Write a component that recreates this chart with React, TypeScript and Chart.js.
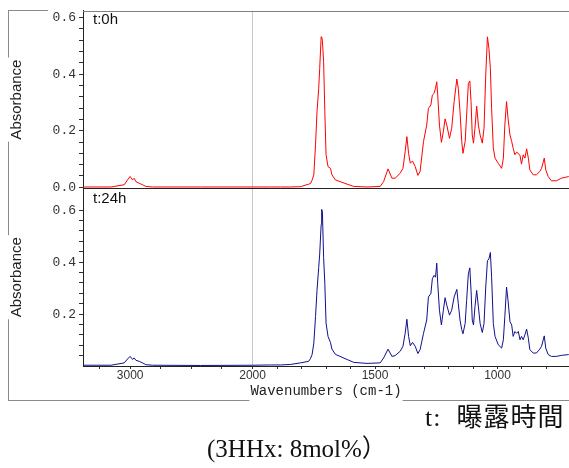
import React, { useEffect, useRef } from 'react';
import { Chart, registerables, LinearScale } from 'chart.js';

Chart.register(...registerables);

// ---- data (wavenumber in cm-1, absorbance) ----
const wavenumbers = [
  3385, 3157, 3048, 3021, 3000, 2980, 2967, 2953, 2926, 2899,
  2872, 2817, 2424, 2000, 1927, 1886, 1845, 1805, 1771, 1764,
  1757, 1750, 1743, 1737, 1730, 1726, 1720, 1718, 1715, 1710,
  1705, 1700, 1692, 1682, 1676, 1662, 1614, 1587, 1533, 1479,
  1465, 1447, 1431, 1418, 1397, 1386, 1377, 1370, 1363, 1356,
  1347, 1336, 1325, 1316, 1302, 1289, 1282, 1272, 1266, 1259,
  1253, 1248, 1244, 1237, 1229, 1221, 1214, 1207, 1196, 1187,
  1177, 1166, 1160, 1153, 1146, 1141, 1132, 1126, 1119, 1113,
  1108, 1103, 1098, 1092, 1085, 1078, 1071, 1062, 1055, 1048,
  1041, 1035, 1029, 1024, 1017, 1010, 997, 983, 976, 970,
  963, 957, 949, 942, 936, 929, 922, 915, 908, 902,
  895, 888, 881, 874, 868, 854, 841, 827, 820, 809,
  803, 793, 780, 759, 739, 709,
];

const absorbance0h = [
  0.001, 0.001, 0.009, 0.026, 0.038, 0.026, 0.032, 0.020, 0.014, 0.009,
  0.003, 0.001, 0.001, 0.001, 0.001, 0.001, 0.001, 0.002, 0.011, 0.013,
  0.025, 0.044, 0.150, 0.267, 0.350, 0.420, 0.532, 0.530, 0.520, 0.444,
  0.267, 0.115, 0.073, 0.067, 0.044, 0.026, 0.011, 0.003, 0.001, 0.003,
  0.020, 0.065, 0.032, 0.032, 0.050, 0.067, 0.126, 0.179, 0.120, 0.085,
  0.093, 0.073, 0.042, 0.056, 0.162, 0.220, 0.279, 0.291, 0.326, 0.332,
  0.350, 0.373, 0.326, 0.220, 0.159, 0.197, 0.242, 0.220, 0.173, 0.209,
  0.303, 0.383, 0.350, 0.267, 0.162, 0.120, 0.162, 0.256, 0.367, 0.376,
  0.303, 0.185, 0.156, 0.209, 0.287, 0.220, 0.185, 0.156, 0.209, 0.397,
  0.532, 0.491, 0.420, 0.279, 0.138, 0.103, 0.085, 0.067, 0.103, 0.220,
  0.303, 0.244, 0.185, 0.162, 0.138, 0.115, 0.124, 0.120, 0.112, 0.082,
  0.115, 0.103, 0.136, 0.103, 0.062, 0.044, 0.044, 0.056, 0.067, 0.103,
  0.062, 0.038, 0.023, 0.023, 0.032, 0.038,
];

const absorbance24h = [
  0.003, 0.003, 0.012, 0.027, 0.037, 0.025, 0.031, 0.022, 0.018, 0.012,
  0.005, 0.003, 0.002, 0.003, 0.004, 0.004, 0.006, 0.012, 0.018, 0.028,
  0.044, 0.088, 0.190, 0.291, 0.380, 0.431, 0.545, 0.603, 0.596, 0.418,
  0.317, 0.165, 0.114, 0.090, 0.065, 0.045, 0.025, 0.014, 0.010, 0.012,
  0.031, 0.065, 0.037, 0.040, 0.057, 0.076, 0.126, 0.180, 0.114, 0.078,
  0.091, 0.076, 0.048, 0.063, 0.126, 0.177, 0.266, 0.279, 0.336, 0.349,
  0.342, 0.396, 0.317, 0.215, 0.158, 0.215, 0.263, 0.234, 0.196, 0.215,
  0.266, 0.295, 0.240, 0.177, 0.140, 0.124, 0.164, 0.253, 0.355, 0.378,
  0.291, 0.177, 0.158, 0.228, 0.291, 0.228, 0.164, 0.129, 0.164, 0.304,
  0.406, 0.412, 0.437, 0.342, 0.164, 0.114, 0.082, 0.069, 0.101, 0.190,
  0.304, 0.253, 0.171, 0.158, 0.114, 0.133, 0.126, 0.133, 0.101, 0.114,
  0.101, 0.120, 0.142, 0.107, 0.063, 0.050, 0.050, 0.065, 0.076, 0.116,
  0.069, 0.044, 0.037, 0.037, 0.041, 0.044,
];

const panelLabels = ['t:0h', 't:24h'];
const xTickLabels = [3000, 2000, 1500, 1000];
const xMinorHigh = [3250, 3000, 2750, 2500, 2250, 2000];
const xMinorLowStart = 1900;
const xMinorLowEnd = 800;
const yTickLabels = [0.0, 0.2, 0.4, 0.6];
const xTitle = 'Wavenumbers (cm-1)';
const yTitle = 'Absorbance';
const captionTime = 't:  曝露時間';
const captionSample = '(3HHx: 8mol%）';

// ---- split wavenumber axis: region above 2000 cm-1 is compressed by half ----
const BREAK = 2000;
const COMPRESS = 0.5;
const fwd = (w: number) => (w > BREAK ? BREAK + (w - BREAK) * COMPRESS : w);
const inv = (p: number) => (p > BREAK ? BREAK + (p - BREAK) / COMPRESS : p);

class SplitScale extends (LinearScale as any) {
  static id = 'split';
  configure() {
    super.configure();
    const a = fwd(this.min);
    const b = fwd(this.max);
    this._startValue = a;
    this._endValue = b;
    this._valueRange = b - a;
  }
  getPixelForValue(v: number) {
    if (v === null || v === undefined) return NaN;
    return this.getPixelForDecimal((fwd(v) - this._startValue) / this._valueRange);
  }
  getValueForPixel(px: number) {
    return inv(this._startValue + this.getDecimalForPixel(px) * this._valueRange);
  }
}
Chart.register(SplitScale as any);

const FONT_SANS = "'Liberation Sans', Arial, sans-serif";
const FONT_MONO = "'Liberation Mono', 'DejaVu Sans Mono', monospace";

const xTickValues = (() => {
  const out: number[] = [...xMinorHigh];
  for (let v = xMinorLowStart; v >= xMinorLowEnd; v -= 100) out.push(v);
  return out;
})();

const isMajorY = (v: number) => yTickLabels.some((t) => Math.abs(t - v) < 1e-6);
const yTicks = (startIdx: number) => {
  const out: any[] = [];
  for (let k = startIdx; k <= 15; k++) out.push({ value: +(k * 0.04).toFixed(2) });
  return out;
};

const yScale = (min: number, max: number, startIdx: number) => ({
  type: 'linear',
  position: 'left',
  stack: 'spectra',
  stackWeight: 1,
  min,
  max,
  afterFit: (s: any) => {
    s.width = 83;
  },
  afterBuildTicks: (s: any) => {
    s.ticks = yTicks(startIdx);
  },
  ticks: {
    autoSkip: false,
    padding: 3,
    color: '#333',
    font: { family: FONT_MONO, size: 13 },
    callback: (v: any) => (isMajorY(Number(v)) ? Number(v).toFixed(1) : ''),
  },
  grid: { drawOnChartArea: false, drawTicks: true, tickLength: 4, tickColor: '#333', color: '#333' },
  border: { display: true, color: '#222', width: 1 },
  title: {
    display: true,
    text: yTitle,
    color: '#222',
    font: { family: FONT_SANS, size: 15 },
    padding: { top: 8, bottom: 0 },
  },
});

const crisp = (v: number) => Math.round(v) + 0.5;

const framePlugin = {
  id: 'frame',
  afterDraw(chart: any) {
    const { ctx, chartArea } = chart;
    const yT = chart.scales.yTop;
    const yB = chart.scales.yBottom;
    const xs = chart.scales.x;
    const seg = (x1: number, y1: number, x2: number, y2: number, color: string) => {
      ctx.beginPath();
      ctx.strokeStyle = color;
      ctx.lineWidth = 1;
      ctx.moveTo(x1, y1);
      ctx.lineTo(x2, y2);
      ctx.stroke();
    };
    ctx.save();
    // plot borders
    seg(chartArea.left, crisp(yT.top), chartArea.right, crisp(yT.top), '#808080');
    seg(chartArea.left, crisp(yT.bottom), chartArea.right, crisp(yT.bottom), '#222');

    // outer frame with gaps for titles
    ctx.font = `15px ${FONT_SANS}`;
    const tw = ctx.measureText(yTitle).width;
    const g = [yT, yB].map((s: any) => {
      const c = (s.top + s.bottom) / 2;
      return [c - tw / 2 - 2, c + tw / 2 + 2];
    });
    const fx = 8.5;
    const fTop = 10.5;
    const fBottom = 400.5;
    const gray = '#8a8a8a';
    seg(fx, fTop, fx, g[0][0], gray);
    seg(fx, g[0][1], fx, g[1][0], gray);
    seg(fx, g[1][1], fx, fBottom, gray);
    seg(fx - 0.5, fTop, 48, fTop, gray);
    ctx.font = `14px ${FONT_MONO}`;
    const xw = ctx.measureText(xTitle).width;
    const cx = (xs.left + xs.right) / 2;
    seg(fx - 0.5, fBottom, cx - xw / 2 - 1, fBottom, gray);
    seg(cx + xw / 2 + 1, fBottom, chart.width, fBottom, gray);

    // panel labels
    ctx.font = `15px ${FONT_SANS}`;
    ctx.fillStyle = '#111';
    ctx.textBaseline = 'middle';
    ctx.textAlign = 'left';
    ctx.fillText(panelLabels[0], chartArea.left + 10, yT.top + 9.5);
    ctx.fillText(panelLabels[1], chartArea.left + 10, yB.top + 10);
    ctx.restore();
  },
};

export default function App() {
  const ref = useRef<HTMLCanvasElement>(null);

  useEffect(() => {
    const canvas = ref.current;
    if (!canvas) return;
    const chart = new Chart(canvas, {
      type: 'line',
      data: {
        datasets: [
          {
            label: panelLabels[0],
            data: wavenumbers.map((w, i) => ({ x: w, y: absorbance0h[i] })),
            borderColor: '#ff0000',
            borderWidth: 1,
            pointRadius: 0,
            tension: 0,
            fill: false,
            xAxisID: 'x',
            yAxisID: 'yTop',
          },
          {
            label: panelLabels[1],
            data: wavenumbers.map((w, i) => ({ x: w, y: absorbance24h[i] })),
            borderColor: '#10108a',
            borderWidth: 1,
            pointRadius: 0,
            tension: 0,
            fill: false,
            xAxisID: 'x',
            yAxisID: 'yBottom',
          },
        ],
      },
      options: {
        responsive: false,
        animation: false,
        devicePixelRatio: 1,
        layout: { padding: { left: 0, right: 0, top: 9, bottom: 68 } },
        plugins: { legend: { display: false }, tooltip: { enabled: false } },
        scales: {
          x: {
            type: 'split',
            position: 'bottom',
            min: 708,
            max: 3385,
            reverse: true,
            afterFit: (s: any) => {
              s.height = 34;
            },
            afterBuildTicks: (s: any) => {
              s.ticks = xTickValues.map((v) => ({ value: v }));
            },
            ticks: {
              autoSkip: false,
              maxRotation: 0,
              minRotation: 0,
              padding: -1,
              color: '#333',
              font: { family: FONT_SANS, size: 12 },
              callback: (v: any) => (xTickLabels.includes(Number(v)) ? String(v) : ''),
            },
            grid: {
              drawOnChartArea: true,
              drawTicks: true,
              tickLength: 3,
              tickColor: '#333',
              color: (c: any) => (c.tick && c.tick.value === 2000 ? '#c8c8c8' : 'rgba(0,0,0,0)'),
            },
            border: { display: true, color: '#222' },
            title: {
              display: true,
              text: xTitle,
              color: '#222',
              font: { family: FONT_MONO, size: 14 },
              padding: { top: 0, bottom: 0 },
            },
          },
          yBottom: yScale(0, 0.684, 1),
          yTop: yScale(-0.004, 0.624, 0),
        },
      } as any,
      plugins: [framePlugin as any],
    });
    return () => chart.destroy();
  }, []);

  return (
    <div
      style={{
        position: 'fixed',
        left: 0,
        top: 0,
        width: 569,
        height: 468,
        overflow: 'hidden',
        background: '#fff',
      }}
    >
      <canvas ref={ref} width={569} height={468} style={{ display: 'block', width: 569, height: 468 }} />
      <div
        style={{
          position: 'absolute',
          left: 425,
          top: 405,
          font: "26px 'Liberation Serif', 'Noto Sans CJK JP', serif",
          lineHeight: '26px',
          letterSpacing: '1px',
          whiteSpace: 'pre',
          color: '#111',
        }}
      >
        {captionTime}
      </div>
      <div
        style={{
          position: 'absolute',
          left: 207,
          top: 436,
          font: "25px 'Liberation Serif', 'Noto Sans CJK JP', serif",
          lineHeight: '25px',
          whiteSpace: 'pre',
          color: '#111',
        }}
      >
        {captionSample}
      </div>
    </div>
  );
}
